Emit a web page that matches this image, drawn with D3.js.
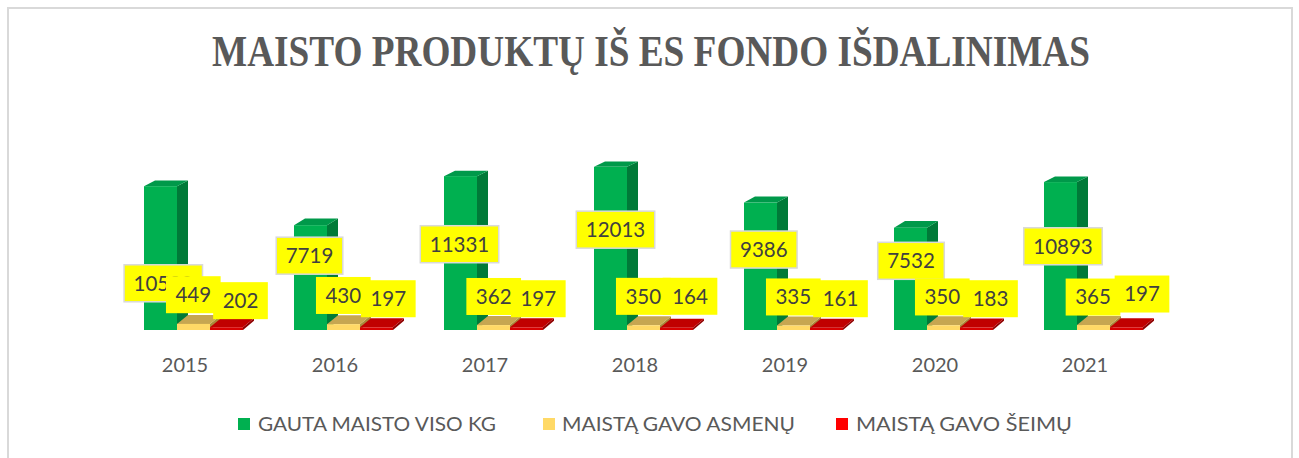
<!DOCTYPE html>
<html>
<head>
<meta charset="utf-8">
<script src="https://cdn.jsdelivr.net/npm/d3@7"></script>
<style>
  html, body { margin: 0; padding: 0; background: #ffffff; }
  svg { display: block; }
</style>
</head>
<body>
<svg id="chart" width="1299" height="458"></svg>
<script>
// ---- data ----
const years = ["2015", "2016", "2017", "2018", "2019", "2020", "2021"];
const totalKg = [10590, 7719, 11331, 12013, 9386, 7532, 10893];
const persons = [449, 430, 362, 350, 335, 350, 365];
const families = [202, 197, 197, 164, 161, 183, 197];
const seriesNames = ["GAUTA MAISTO VISO KG", "MAISTĄ GAVO ASMENŲ", "MAISTĄ GAVO ŠEIMŲ"];
const titleText = "MAISTO PRODUKTŲ IŠ ES FONDO IŠDALINIMAS";

// ---- layout / style (not data) ----
const colors = [
  { front: "#00B050", top: "#00994A", side: "#007A38" },
  { front: "#FFD966", top: "#C6A651", side: "#A8893A" },
  { front: "#D80000", top: "#C00000", side: "#8E0000" }
];
// manual label nudges [dx, dy] relative to (bar front center, bar top)
const labelShift = [
  [[2.8, 97.1], [-1, 30.5], [-1, 68.1], [5, 62.8], [3.3, 47], [0.5, 33.1], [2.5, 64.2]],
  [[-0.2, -29.2], [-0.2, -28.7], [0.2, -28.6], [-0.2, -28.9], [-0.2, -28.5], [-1.2, -28.3], [-0.5, -28]],
  [[14, -26.6], [11.8, -28.6], [11.8, -28.6], [13.5, -31.5], [14, -29.1], [14, -28.8], [15.5, -33.3]]
];

const svg = d3.select("#chart");
const series = [totalKg, persons, families];

// chart border
svg.append("rect")
  .attr("x", 8).attr("y", 8).attr("width", 1284).attr("height", 470)
  .attr("fill", "#ffffff").attr("stroke", "#D9D9D9").attr("stroke-width", 2);

// title
svg.append("text")
  .attr("x", 651).attr("y", 66)
  .attr("text-anchor", "middle")
  .attr("font-family", "'Liberation Serif', 'Times New Roman', serif")
  .attr("font-weight", "bold")
  .attr("font-size", 45)
  .attr("fill", "#595959")
  .attr("textLength", 878)
  .attr("lengthAdjust", "spacingAndGlyphs")
  .text(titleText);

// scales
const baseY = 330;
const x = d3.scaleBand().domain(years).range([118.5, 1168.5]).paddingInner(0.34).paddingOuter(0.17);
const xs = d3.scaleBand().domain([0, 1, 2]).range([0, x.bandwidth()]);
const y = d3.scaleLinear().domain([0, 14000]).range([baseY, baseY - 14000 * 0.01358]);

const depthX = 11;
const depthY = yy => 5.7 + (yy - 186) * 0.024; // perspective: lower faces show more top

// bars
const barsG = svg.append("g");
years.forEach((yr, i) => {
  series.forEach((vals, s) => {
    const xl = x(yr) + xs(s);
    const xr = xl + xs.bandwidth();
    const yt = y(vals[i]);
    const yb = y(0);
    const dt = depthY(yt), db = depthY(yb);
    const g = barsG.append("g");
    g.append("path")
      .attr("d", `M${xr},${yt} L${xr + depthX},${yt - dt} L${xr + depthX},${yb - db} L${xr},${yb} Z`)
      .attr("fill", colors[s].side);
    g.append("path")
      .attr("d", `M${xl},${yt} L${xr},${yt} L${xr + depthX},${yt - dt} L${xl + depthX},${yt - dt} Z`)
      .attr("fill", colors[s].top);
    g.append("rect")
      .attr("x", xl).attr("y", yt)
      .attr("width", xs.bandwidth()).attr("height", yb - yt)
      .attr("fill", colors[s].front);
  });
});

// category axis
const axisG = svg.append("g")
  .attr("transform", `translate(-8.5, 352)`)
  .call(d3.axisBottom(x).tickSize(0).tickPadding(0));
axisG.select(".domain").remove();
axisG.selectAll("text")
  .attr("font-family", "Lato, 'Open Sans', sans-serif")
  .attr("font-size", 20)
  .attr("fill", "#595959")
  .attr("dy", "1em");

// data labels
const labelsG = svg.append("g");
series.forEach((vals, s) => {
  years.forEach((yr, i) => {
    const cx = x(yr) + xs(s) + xs.bandwidth() / 2 + labelShift[s][i][0];
    const cy = y(vals[i]) + labelShift[s][i][1];
    const g = labelsG.append("g");
    const rect = g.append("rect");
    const t = g.append("text")
      .attr("x", cx).attr("y", cy + 7.4)
      .attr("text-anchor", "middle")
      .attr("font-family", "Lato, 'Open Sans', sans-serif")
      .attr("font-size", 20.5)
      .attr("fill", "#404040")
      .text(String(vals[i]));
    const w = t.node().getComputedTextLength() + 19;
    rect.attr("x", cx - w / 2).attr("y", cy - 18.5)
      .attr("width", w).attr("height", 37)
      .attr("fill", "#FFFF00")
      .attr("stroke", s === 0 ? "#D9D9D9" : "none")
      .attr("stroke-width", 1.5);
  });
});

// legend
const legendItems = [
  { sq: 238, tx: 258, w: 238 },
  { sq: 543, tx: 562, w: 233 },
  { sq: 836, tx: 856, w: 216 }
];
const legendG = svg.append("g");
seriesNames.forEach((name, s) => {
  legendG.append("rect")
    .attr("x", legendItems[s].sq).attr("y", 418)
    .attr("width", 12).attr("height", 12)
    .attr("fill", s === 2 ? "#FF0000" : colors[s].front);
  legendG.append("text")
    .attr("x", legendItems[s].tx).attr("y", 431)
    .attr("font-family", "Lato, 'Open Sans', sans-serif")
    .attr("font-size", 19)
    .attr("fill", "#595959")
    .attr("textLength", legendItems[s].w)
    .attr("lengthAdjust", "spacingAndGlyphs")
    .text(name);
});
</script>
</body>
</html>
